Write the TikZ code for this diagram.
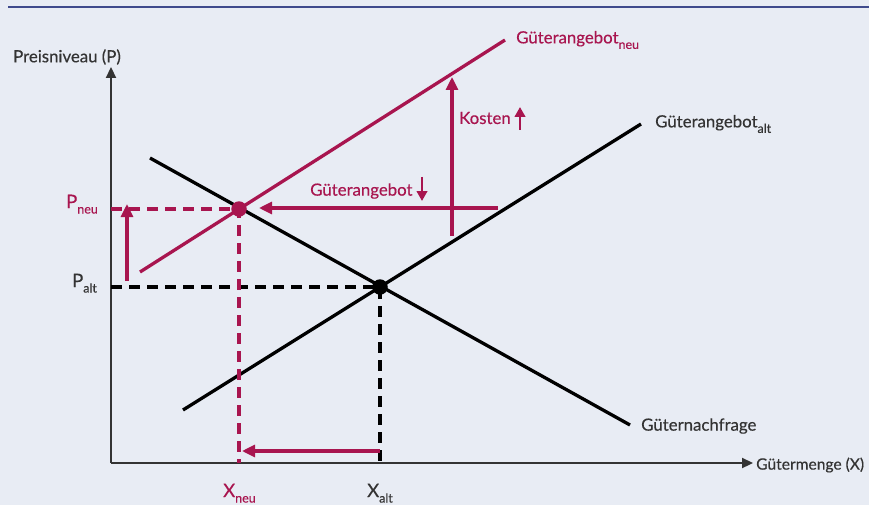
\documentclass[tikz,border=0pt]{standalone}
\usepackage{fontspec}
\setmainfont{Lato}[FakeBold=0.35]
\usetikzlibrary{arrows.meta}
\definecolor{bg}{HTML}{E8ECF4}
\definecolor{crim}{HTML}{A8154F}
\definecolor{ink}{HTML}{333333}
\definecolor{topline}{HTML}{3F4A8C}
\newcommand\subtxt[1]{\raisebox{-5.5pt}{\fontsize{12.5}{12.5}\selectfont #1}}
\begin{document}
\begin{tikzpicture}[x=1pt,y=-1pt,
  lbl/.style={inner sep=0pt,font=\fontsize{16.8}{18}\selectfont,text=ink},
  biglbl/.style={inner sep=0pt,font=\fontsize{18.5}{20}\selectfont},
  curve/.style={line width=3.3pt},
  axisline/.style={line width=2.2pt,draw=ink,-{Triangle[length=11pt,width=10pt]}},
  dashblk/.style={line width=3.1pt,dash pattern=on 11pt off 7pt},
  shiftarrow/.style={line width=3.1pt,draw=crim,-{Triangle[length=13pt,width=12pt]}},
  minarrow/.style={line width=2.6pt,draw=crim,-{Triangle[length=10pt,width=10.5pt]}},
  dot/.style={circle,inner sep=0pt,minimum size=15.5pt}]
\fill[bg] (0,0) rectangle (869,505);
\useasboundingbox (0,0) rectangle (869,505);
\draw[topline,line width=2.4pt] (8,7) -- (869,7);

% axes
\coordinate (O) at (111,463);
\coordinate (ytip) at (111,67);
\coordinate (xtip) at (753,463);
\draw[axisline] (O) -- (ytip);
\draw[axisline] (O) -- (xtip);
\node[lbl,anchor=west] (ylab) at (13,57) {Preisniveau (P)};
\node[lbl,anchor=west,font=\fontsize{15.6}{17}\selectfont] (xlab) at (756,465) {Gütermenge (X)};

% curves
\coordinate (d1) at (150,158);
\coordinate (d2) at (630,425);
\coordinate (s1) at (183,410);
\coordinate (s2) at (641,124);
\coordinate (n1) at (140,272);
\coordinate (n2) at (505,40);
\draw[curve,black] (d1) -- (d2);
\draw[curve,black] (s1) -- (s2);
\draw[curve,crim] (n1) -- (n2);
\node[lbl,anchor=west] (dlab) at (641,426) {Güternachfrage};
\node[lbl,anchor=west] (slab) at (655,124) {Güterangebot\subtxt{alt}};
\node[lbl,anchor=west,text=crim] (nlab) at (516,40) {Güterangebot\subtxt{neu}};

% equilibria
\coordinate (Ealt) at (380,287);
\coordinate (Eneu) at (239,209);
\coordinate (Palt) at (111,287);
\coordinate (Pneu) at (111,209);
\coordinate (Xalt) at (380,463);
\coordinate (Xneu) at (239,463);
\draw[dashblk,black] (Palt) -- (Ealt) -- (Xalt);
\draw[dashblk,crim] (Pneu) -- (Eneu) -- (Xneu);
\node[dot,fill=black] (dalt) at (Ealt) {};
\node[dot,fill=crim] (dneu) at (Eneu) {};

\node[biglbl,anchor=base west,text=ink] (paltlab) at (72,287) {P\subtxt{alt}};
\node[biglbl,anchor=base west,text=crim] (pneulab) at (66,208) {P\subtxt{neu}};
\node[biglbl,anchor=base west,text=ink] (xaltlab) at (367,497) {X\subtxt{alt}};
\node[biglbl,anchor=base west,text=crim] (xneulab) at (223,497) {X\subtxt{neu}};

% shift arrows
\coordinate (pa1) at (127,281);
\coordinate (pa2) at (127,204);
\draw[shiftarrow] (pa1) -- (pa2);
\coordinate (ga1) at (498,208);
\coordinate (ga2) at (259,208);
\draw[shiftarrow] (ga1) -- (ga2);
\coordinate (ka1) at (452,236);
\coordinate (ka2) at (452,77);
\draw[shiftarrow] (ka1) -- (ka2);
\coordinate (xa1) at (380,451);
\coordinate (xa2) at (242,451);
\draw[shiftarrow] (xa1) -- (xa2);

\node[lbl,anchor=west,text=crim] (glab) at (310,191) {Güterangebot};
\node[lbl,anchor=west,text=crim] (klab) at (459,118) {Kosten};
\coordinate (gm1) at (422,177);
\coordinate (gm2) at (422,201);
\draw[minarrow] (gm1) -- (gm2);
\coordinate (km1) at (520,130);
\coordinate (km2) at (520,107);
\draw[minarrow] (km1) -- (km2);
\end{tikzpicture}
\end{document}
